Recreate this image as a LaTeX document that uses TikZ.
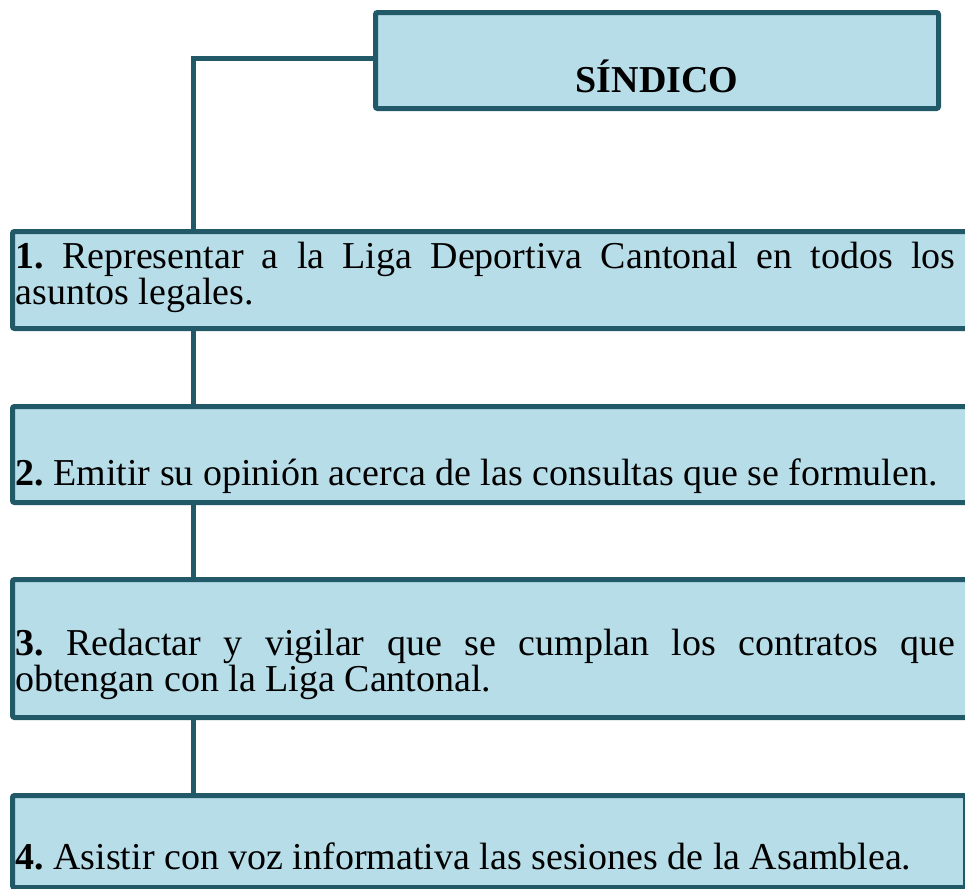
\documentclass[tikz,border=0pt]{standalone}
\usepackage{fontspec}
\setmainfont{Liberation Serif}
\usepackage{xcolor}
\usepackage{tikz}
\usetikzlibrary{calc}
\definecolor{sdkteal}{RGB}{33,89,104}
\definecolor{sdkblue}{RGB}{183,221,232}

\begin{document}
\frenchspacing
\begin{tikzpicture}[
  x=0.5pt, y=-0.5pt,
  font=\fontsize{19pt}{18pt}\selectfont,
  box/.style={draw=sdkteal, fill=sdkblue, line width=2.5pt, rounded corners=1pt,
              anchor=north west, inner sep=0pt, minimum height=#1},
  txt/.style={anchor=west, text width=470pt, align=justify, inner sep=0pt},
  link/.style={draw=sdkteal, line width=2.5pt},
]
\clip (0,0) rectangle (965,889);
\useasboundingbox (0,0) rectangle (965,889);
% connectors first, boxes on top
\coordinate (s) at (373,58);
\coordinate (k1) at (193,229);
\coordinate (k2) at (193,326);
\coordinate (k3) at (193,404);
\coordinate (k4) at (193,500);
\coordinate (k5) at (193,577);
\coordinate (k6) at (193,715);
\coordinate (k7) at (193,793);
\draw[link] (s) -| (k1);
\foreach \a/\b in {k2/k3,k4/k5,k6/k7}
  \draw[link] (\a) -- (\b);

\node[box=48pt, minimum width=281.5pt] (sindico) at (373,10) {};
\node[box=48.5pt, minimum width=490pt] (b1) at (10,229) {};
\node[box=48pt, minimum width=490pt] (b2) at (10,404) {};
\node[box=69pt, minimum width=490pt] (b3) at (10,577) {};
\node[box=46pt, minimum width=476.5pt] (b4) at (10,793) {};

\node[font=\fontsize{19pt}{18pt}\selectfont\bfseries] (t0) at ([yshift=-8pt]sindico.center) {SÍNDICO};
\node[txt] (t1) at ([xshift=2.5pt,yshift=1.2pt]b1.west)
  {\textbf{1.} Representar a la Liga Deportiva Cantonal en todos los\linebreak asuntos legales.};
\node[txt] (t2) at ([xshift=2.5pt,yshift=-11pt]b2.west)
  {\textbf{2.} Emitir su opinión acerca de las consultas que se formulen.};
\node[txt] (t3) at ([xshift=2.5pt,yshift=-7.8pt]b3.west)
  {\textbf{3.} Redactar y vigilar que se cumplan los contratos que\linebreak obtengan con la Liga Cantonal.};
\node[txt] (t4) at ([xshift=2.5pt,yshift=-7.5pt]b4.west)
  {\textbf{4.} Asistir con voz informativa las sesiones de la Asamblea.};
\end{tikzpicture}
\end{document}
